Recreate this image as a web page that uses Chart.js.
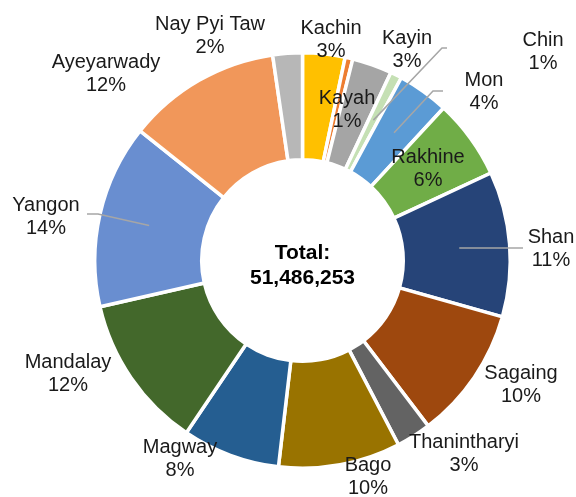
<!DOCTYPE html>
<html>
<head>
<meta charset="utf-8">
<script src="https://cdn.jsdelivr.net/npm/chart.js@4"></script>
<style>
  html, body { margin: 0; padding: 0; background: #fff; }
  #wrap { width: 576px; height: 497px; position: relative; }
</style>
</head>
<body>
<div id="wrap"><canvas id="myChart"></canvas></div>
<script>
const regions = ['Kachin', 'Kayah', 'Kayin', 'Chin', 'Mon', 'Rakhine', 'Shan', 'Sagaing',
  'Thanintharyi', 'Bago', 'Magway', 'Mandalay', 'Yangon', 'Ayeyarwady', 'Nay Pyi Taw'];
// share of population (%)
const shares = [3.3, 0.6, 3.1, 0.9, 4.0, 6.2, 11.3, 10.3, 2.7, 9.5, 7.6, 12.0, 14.3, 12.0, 2.3];
// percentages as printed on the labels
const pctLabels = ['3%', '1%', '3%', '1%', '4%', '6%', '11%', '10%', '3%', '10%', '8%', '12%', '14%', '12%', '2%'];
const totalText = '51,486,253';

const colors = ['#ffc000', '#ed7d31', '#a5a5a5', '#c5e0b4', '#5b9bd5', '#70ad47', '#264478',
  '#9e480e', '#636363', '#997300', '#255e91', '#43682b', '#698ed0', '#f1975a', '#b7b7b7'];

// where each label sits (text centre of the name line) and whether it has a leader line
const labelAt = [
  [331, 28], [347, 98], [407, 38], [543, 40], [484, 80], [428, 157], [551, 237], [521, 373],
  [464, 442], [368, 465], [180, 447], [68, 362], [46, 205], [106, 62], [210, 24],
];
const leaders = {
  3: [[447, 48], [442, 48]],
  4: [[443, 91], [433, 91]],
  6: [[523, 248]],
  12: [[87, 214], [98, 214]],
};

const labelPlugin = {
  id: 'labels',
  afterDatasetsDraw(chart) {
    const ctx = chart.ctx;
    const meta = chart.getDatasetMeta(0);
    ctx.save();
    // leader lines
    ctx.strokeStyle = '#a6a6a6';
    ctx.lineWidth = 1.5;
    Object.keys(leaders).forEach((k) => {
      const arc = meta.data[k];
      const mid = (arc.startAngle + arc.endAngle) / 2;
      const r = (arc.innerRadius + arc.outerRadius) / 2 + 3;
      const ex = arc.x + Math.cos(mid) * r;
      const ey = arc.y + Math.sin(mid) * r;
      const pts = leaders[k];
      ctx.beginPath();
      ctx.moveTo(pts[0][0], pts[0][1]);
      for (let i = 1; i < pts.length; i++) ctx.lineTo(pts[i][0], pts[i][1]);
      ctx.lineTo(ex, ey);
      ctx.stroke();
    });
    // labels
    ctx.fillStyle = '#1a1a1a';
    ctx.font = '20px "Liberation Sans", Arial, sans-serif';
    ctx.textAlign = 'center';
    ctx.textBaseline = 'middle';
    regions.forEach((name, i) => {
      const [x, y] = labelAt[i];
      ctx.fillText(name, x, y);
      ctx.fillText(pctLabels[i], x, y + 23);
    });
    // centre total
    const a = meta.data[0];
    ctx.fillStyle = '#000';
    ctx.font = 'bold 21px "Liberation Sans", Arial, sans-serif';
    ctx.fillText('Total:', a.x, a.y - 7);
    ctx.fillText(totalText, a.x, a.y + 18);
    ctx.restore();
  },
};

const ctx = document.getElementById('myChart');

new Chart(ctx, {
  type: 'doughnut',
  data: {
    labels: regions,
    datasets: [
      {
        data: shares,
        backgroundColor: colors,
        borderColor: '#ffffff',
        borderWidth: 3.5,
      },
    ],
  },
  options: {
    responsive: true,
    maintainAspectRatio: false,
    animation: false,
    cutout: '48.5%',
    rotation: 0,
    layout: {
      padding: { left: 93, right: 64, top: 51, bottom: 27 },
    },
    plugins: {
      legend: { display: false },
      tooltip: { enabled: false },
    },
  },
  plugins: [labelPlugin],
});
</script>
</body>
</html>
